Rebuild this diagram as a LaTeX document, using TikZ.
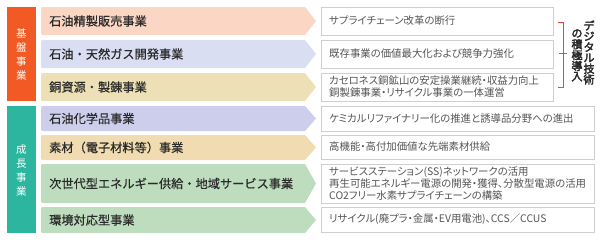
\documentclass[tikz,border=0pt]{standalone}
\usepackage{fontspec}
\setmainfont{Noto Sans CJK JP}
\newfontfamily\jpp[RawFeature=+palt]{Noto Sans CJK JP}
\newfontfamily\jpm[FakeBold=0.4]{Noto Sans CJK JP}
\newfontfamily\jpb[FakeBold=3]{Noto Sans CJK JP}
\definecolor{cA}{HTML}{FBD6C4}
\definecolor{cB}{HTML}{DADEF2}
\definecolor{cC}{HTML}{EEE0B6}
\definecolor{cD}{HTML}{CCCEEC}
\definecolor{cE}{HTML}{F0DCB0}
\definecolor{cF}{HTML}{BEDCBE}
\definecolor{cOrange}{HTML}{F15A24}
\definecolor{cTeal}{HTML}{2CB6A0}
\definecolor{cRed}{HTML}{E8453C}
\definecolor{cLab}{HTML}{2A2A2A}
\definecolor{cDesc}{HTML}{555555}
\definecolor{cBorder}{HTML}{CFCFCF}
\newcommand\arrowrow[3]{%
  \fill[#1] (316,{(#2+#3)/2}) -- (305,#2) -- (44,#2) .. controls (41,#2) .. (41,#2+3)
    -- (41,#3-3) .. controls (41,#3) .. (44,#3) -- (305,#3) -- cycle;}
\tikzset{
  lab/.style={anchor=west, inner sep=0pt, text=cLab, font=\jpm\fontsize{12.2}{14}\selectfont},
  desc/.style={anchor=west, inner sep=0pt, text=cDesc, align=left, font=\jpp\fontsize{10.4}{12}\selectfont},
  descbox/.style={draw=cBorder, line width=1pt, fill=white},
  sidelab/.style={inner sep=0pt, text=white, align=center, font=\fontsize{10.5}{14}\selectfont},
  vch/.style={inner sep=0pt, text=cLab, font=\jpb\fontsize{11}{12}\selectfont},
}
\begin{document}
\begin{tikzpicture}[x=1pt,y=-1pt]
\useasboundingbox (0,0) rectangle (607,242);
% side bars
\fill[cOrange] (7,7) rectangle (36,101);
\node[sidelab] (sb1) at (21.5,55) {基\\盤\\事\\業};
\fill[cTeal] (7,106) rectangle (36,233);
\node[sidelab] (sb2) at (21.5,171) {成\\長\\事\\業};
% arrows
\arrowrow{cA}{7}{35}
\arrowrow{cB}{40}{68}
\arrowrow{cC}{73}{101}
\arrowrow{cD}{106}{131}
\arrowrow{cE}{135}{160}
\arrowrow{cF}{164}{203}
\arrowrow{cF}{207}{233}
\node[lab] (l1) at (49,21) {石油精製販売事業};
\node[lab] (l2) at (49,54) {石油・天然ガス開発事業};
\node[lab] (l3) at (49,87) {銅資源・製錬事業};
\node[lab] (l4) at (49,118.5) {石油化学品事業};
\node[lab] (l5) at (49,147.5) {素材（電子材料等）事業};
\node[lab] (l6) at (49,183.5) {次世代型エネルギー供給・地域サービス事業};
\node[lab] (l7) at (49,220) {環境対応型事業};
% description boxes
\draw[descbox] (321,7) rectangle (553,35);
\draw[descbox] (321,40) rectangle (553,68);
\draw[descbox] (321,73) rectangle (553,101);
\draw[descbox] (321,106) rectangle (594,131);
\draw[descbox] (321,135) rectangle (594,159);
\draw[descbox] (321,164) rectangle (594,203);
\draw[descbox] (321,207) rectangle (594,232);
\node[desc] (d1) at (329,21) {サプライチェーン改革の断行};
\node[desc] (d2) at (329,54) {既存事業の価値最大化および競争力強化};
\node[desc] (d3) at (329,87) {カセロネス銅鉱山の安定操業継続・収益力向上\\銅製錬事業・リサイクル事業の一体運営};
\node[desc] (d4) at (329,118.5) {ケミカルリファイナリー化の推進と誘導品分野への進出};
\node[desc] (d5) at (329,147) {高機能・高付加価値な先端素材供給};
\node[desc] (d6) at (329,183.5) {サービスステーション(SS)ネットワークの活用\\再生可能エネルギー電源の開発・獲得、分散型電源の活用\\CO2フリー水素サプライチェーンの構築};
\node[desc] (d7) at (329,219.5) {リサイクル(廃プラ・金属・EV用電池)、CCS／CCUS};
% bracket
\coordinate (bt) at (563,22);
\coordinate (bb) at (563,87);
\draw[cRed, line width=0.9pt] (558,22) -- (bt) -- (bb) -- (558,87);
\draw[cRed, line width=0.9pt] (559,53) -- (567,53);
\foreach \ch [count=\i from 0] in {デ,ジ,タ,ル,技,術}
  \node[vch] (va\i) at (589,{25.5+10.8*\i}) {\ch};
\foreach \ch [count=\i from 0] in {の,積,極,導,入}
  \node[vch] (vb\i) at (577,{33.5+10.8*\i}) {\ch};
\end{tikzpicture}
\end{document}
